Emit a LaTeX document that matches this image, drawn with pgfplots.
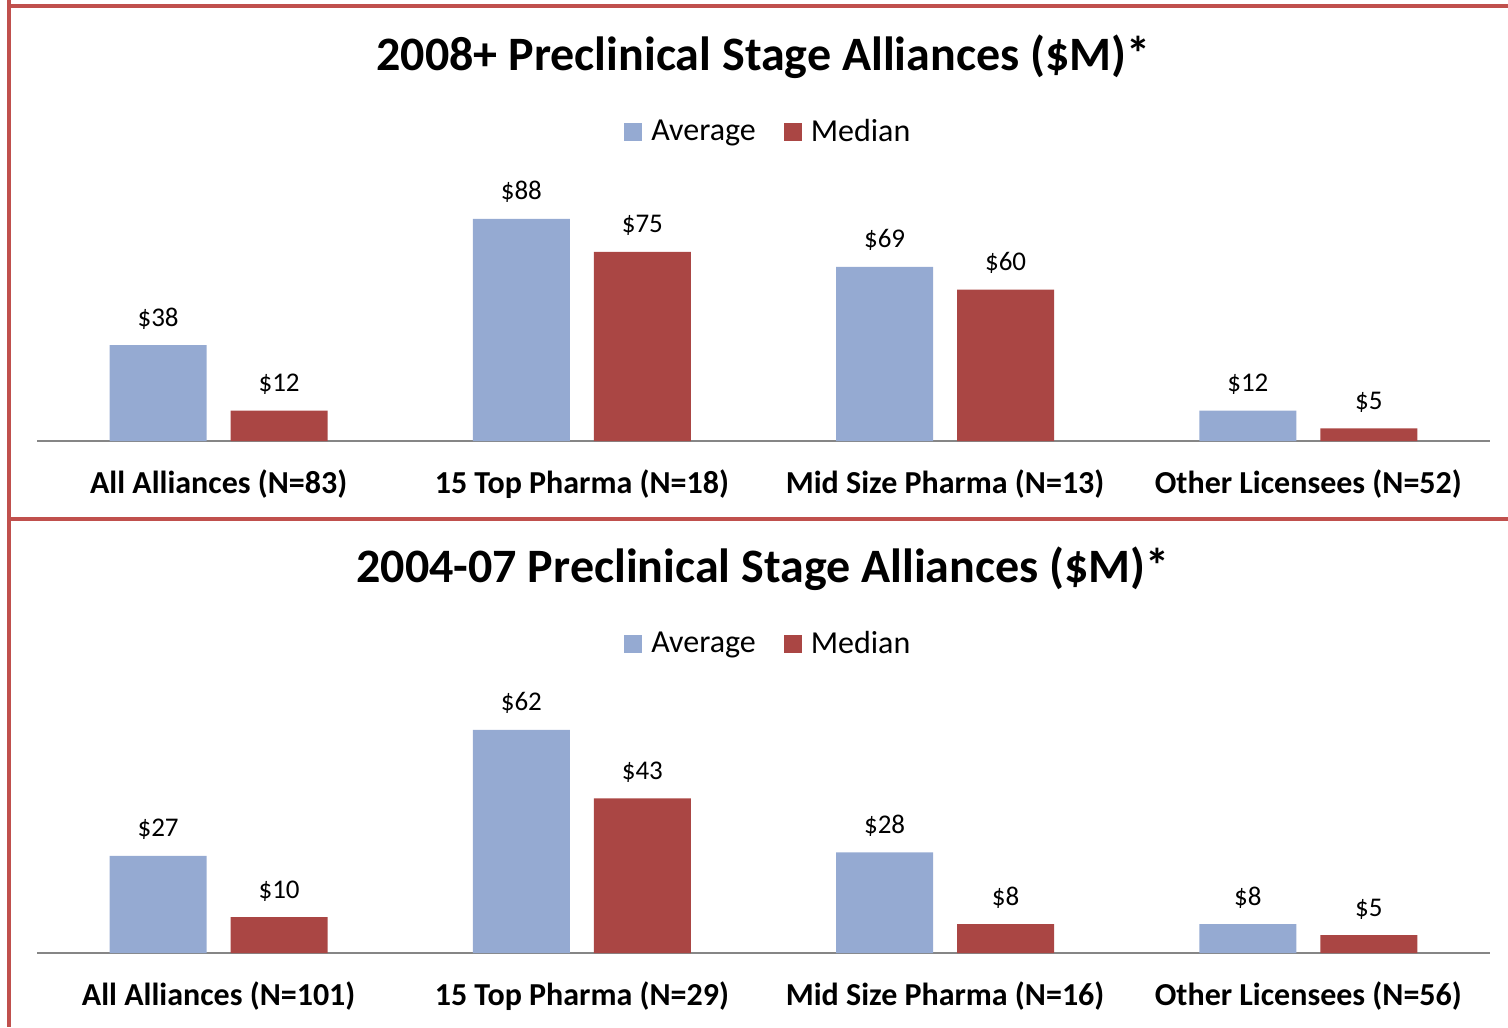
\documentclass[border=0pt]{standalone}
\usepackage{pgfplots}
\pgfplotsset{compat=1.18}
\usepackage{fontspec}
\setmainfont{Carlito}
\definecolor{avgc}{RGB}{149,170,210}
\definecolor{medc}{RGB}{170,70,68}
\definecolor{brd}{RGB}{192,80,77}
\definecolor{axg}{RGB}{134,134,134}
\pgfplotsset{
  mybars/.style={
    anchor=south west,
    width=726.5pt,
    scale only axis,
    ybar,
    bar width=48.5pt,
    ymin=0,
    xmin=-0.5, xmax=3.5,
    xtick={0,1,2,3},
    major tick length=0pt,
    axis x line*=bottom,
    axis y line=none,
    x axis line style={draw=axg, line width=1pt, -},
    xticklabel style={font=\fontsize{16}{19}\selectfont\bfseries, anchor=base, yshift=-26pt},
    clip=false,
    /pgf/number format/assume math mode=true,
    nodes near coords={\$\pgfmathprintnumber{\pgfplotspointmeta}},
    every node near coord/.append style={font=\fontsize{13.5}{16}\selectfont, anchor=base, yshift=9.5pt, text=black},
    legend columns=2,
    legend style={draw=none, fill=none, anchor=center, font=\fontsize{16}{19}\selectfont,
      /tikz/every even column/.append style={column sep=12pt}},
    legend image code/.code={\fill[##1] (0pt,-4.5pt) rectangle (9pt,4.5pt); \path (11.5pt,0pt);},
  }
}
\begin{document}
\begin{tikzpicture}
\useasboundingbox (0pt,0pt) rectangle (754pt,-513.5pt);
% top chart
\begin{axis}[mybars, at={(18.5pt,-220.5pt)}, height=126.15pt, ymax=100,
  xticklabels={All Alliances (N=83), 15 Top Pharma (N=18), Mid Size Pharma (N=13), Other Licensees (N=52)},
  legend style={at={(0.504,1.226)}}]
\addplot[fill=avgc, draw=none, bar shift=-30.25pt] coordinates {(0,38) (1,88) (2,69) (3,12)};
\addplot[fill=medc, draw=none, bar shift=30.25pt] coordinates {(0,12) (1,75) (2,60) (3,5)};
\legend{Average, Median}
\end{axis}
% bottom chart
\begin{axis}[mybars, at={(18.5pt,-476.5pt)}, height=125.9pt, ymax=70,
  xticklabels={All Alliances (N=101), 15 Top Pharma (N=29), Mid Size Pharma (N=16), Other Licensees (N=56)},
  legend style={at={(0.504,1.228)}}]
\addplot[fill=avgc, draw=none, bar shift=-30.25pt] coordinates {(0,27) (1,62) (2,28) (3,8)};
\addplot[fill=medc, draw=none, bar shift=30.25pt] coordinates {(0,10) (1,43) (2,8) (3,5)};
\legend{Average, Median}
\end{axis}
\node[font=\fontsize{24}{29}\selectfont\bfseries] at (381.75pt,-28.5pt) {2008+ Preclinical Stage Alliances (\$M)*};
\node[font=\fontsize{24}{29}\selectfont\bfseries] at (381.5pt,-284.5pt) {2004-07 Preclinical Stage Alliances (\$M)*};
\draw[brd, line width=2pt] (4.5pt,0pt) -- (4.5pt,-513.5pt);
\draw[brd, line width=2pt] (3.5pt,-3pt) -- (754pt,-3pt);
\draw[brd, line width=2pt] (3.5pt,-259.25pt) -- (754pt,-259.25pt);
\end{tikzpicture}
\end{document}
